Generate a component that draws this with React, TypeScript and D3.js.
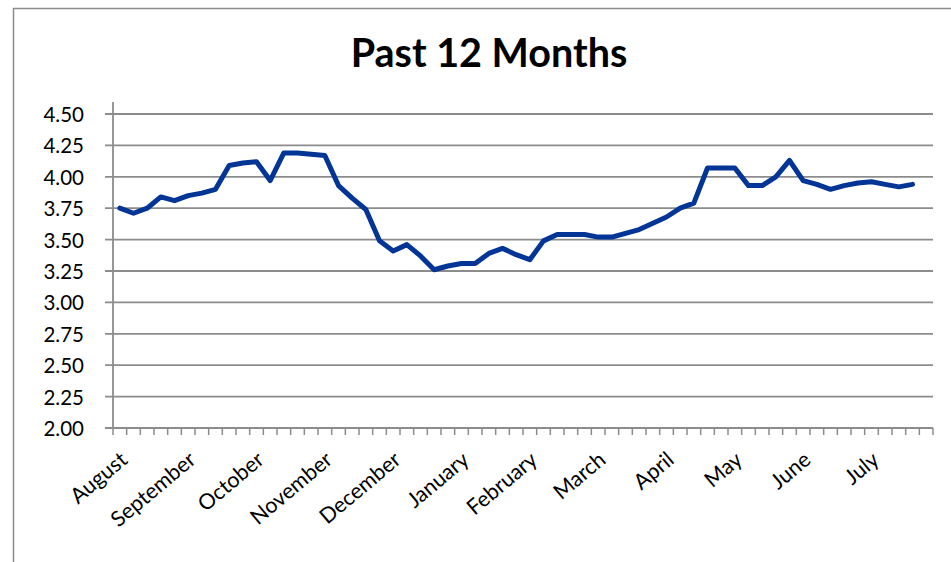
import React, { useEffect, useRef } from "react";
import * as d3 from "d3";

const width = 951;
const height = 562;

// weekly readings, Aug -> Jul (60 slots on the axis, last one empty)
const values = [
  3.75, 3.71, 3.75, 3.84, 3.81, 3.85, 3.87, 3.9, 4.09, 4.11,
  4.12, 3.97, 4.19, 4.19, 4.18, 4.17, 3.93, 3.83, 3.74, 3.49,
  3.41, 3.46, 3.37, 3.26, 3.29, 3.31, 3.31, 3.39, 3.43, 3.38,
  3.34, 3.49, 3.54, 3.54, 3.54, 3.52, 3.52, 3.55, 3.58, 3.63,
  3.68, 3.75, 3.79, 4.07, 4.07, 4.07, 3.93, 3.93, 4.0, 4.13,
  3.97, 3.94, 3.9, 3.93, 3.95, 3.96, 3.94, 3.92, 3.94,
];
const slotCount = 60;
const slotsPerLabel = 5;
const monthLabels = [
  "August", "September", "October", "November", "December", "January",
  "February", "March", "April", "May", "June", "July",
];
const yTicks = [2.0, 2.25, 2.5, 2.75, 3.0, 3.25, 3.5, 3.75, 4.0, 4.25, 4.5];

const gridColor = "#8c8c8c";
const lineColor = "#023596";
const font = "Lato, 'Open Sans', sans-serif";

const Chart = () => {
  const svgRef = useRef(null);

  useEffect(() => {
    const svg = d3.select(svgRef.current);
    svg.selectAll("*").remove();

    const left = 113;
    const right = 933;
    const top = 114;
    const bottom = 428;

    const x = d3.scaleLinear().domain([0, slotCount]).range([left, right]);
    const y = d3.scaleLinear().domain([2, 4.5]).range([bottom, top]);

    // chart border (runs off the right/bottom of the picture)
    svg
      .append("rect")
      .attr("x", 13.5)
      .attr("y", 8.5)
      .attr("width", 980)
      .attr("height", 620)
      .attr("fill", "white")
      .attr("stroke", gridColor)
      .attr("stroke-width", 1.5);

    svg
      .append("text")
      .attr("x", 489)
      .attr("y", 67)
      .attr("text-anchor", "middle")
      .style("font-family", font)
      .style("font-weight", "bold")
      .style("font-size", "39.5px")
      .text("Past 12 Months");

    // horizontal gridlines + y ticks
    const yg = svg.append("g");
    yg.selectAll("line.grid")
      .data(yTicks)
      .enter()
      .append("line")
      .attr("class", "grid")
      .attr("x1", left - 8)
      .attr("x2", right)
      .attr("y1", (d) => y(d))
      .attr("y2", (d) => y(d))
      .attr("stroke", gridColor)
      .attr("stroke-width", 1.8);

    yg.selectAll("text")
      .data(yTicks)
      .enter()
      .append("text")
      .attr("x", 84)
      .attr("y", (d) => y(d) + 8)
      .attr("text-anchor", "end")
      .style("font-family", font)
      .style("font-size", "20.5px")
      .text((d) => d3.format(".2f")(d));

    // y axis line
    svg
      .append("line")
      .attr("x1", left)
      .attr("x2", left)
      .attr("y1", y(4.5) - 12)
      .attr("y2", bottom)
      .attr("stroke", gridColor)
      .attr("stroke-width", 1.8);

    // x axis ticks at slot boundaries
    svg
      .append("g")
      .selectAll("line")
      .data(d3.range(slotCount + 1))
      .enter()
      .append("line")
      .attr("x1", (d) => x(d))
      .attr("x2", (d) => x(d))
      .attr("y1", bottom)
      .attr("y2", bottom + 7)
      .attr("stroke", gridColor)
      .attr("stroke-width", 1.5);

    svg
      .append("g")
      .selectAll("text")
      .data(monthLabels)
      .enter()
      .append("text")
      .attr("text-anchor", "end")
      .attr(
        "transform",
        (d, i) => `translate(${x(i * slotsPerLabel + 0.5) + 9},${462}) rotate(-40)`
      )
      .style("font-family", font)
      .style("font-size", "21.5px")
      .text((d) => d);

    const line = d3
      .line()
      .x((d, i) => x(i + 0.5))
      .y((d) => y(d));

    svg
      .append("path")
      .datum(values)
      .attr("d", line)
      .attr("fill", "none")
      .attr("stroke", lineColor)
      .attr("stroke-width", 5)
      .attr("stroke-linejoin", "round")
      .attr("stroke-linecap", "round");
  }, []);

  return (
    <svg
      ref={svgRef}
      width={width}
      height={height}
      style={{ position: "absolute", left: 0, top: 0, background: "white" }}
    ></svg>
  );
};

export default function App() {
  return <Chart />;
}
